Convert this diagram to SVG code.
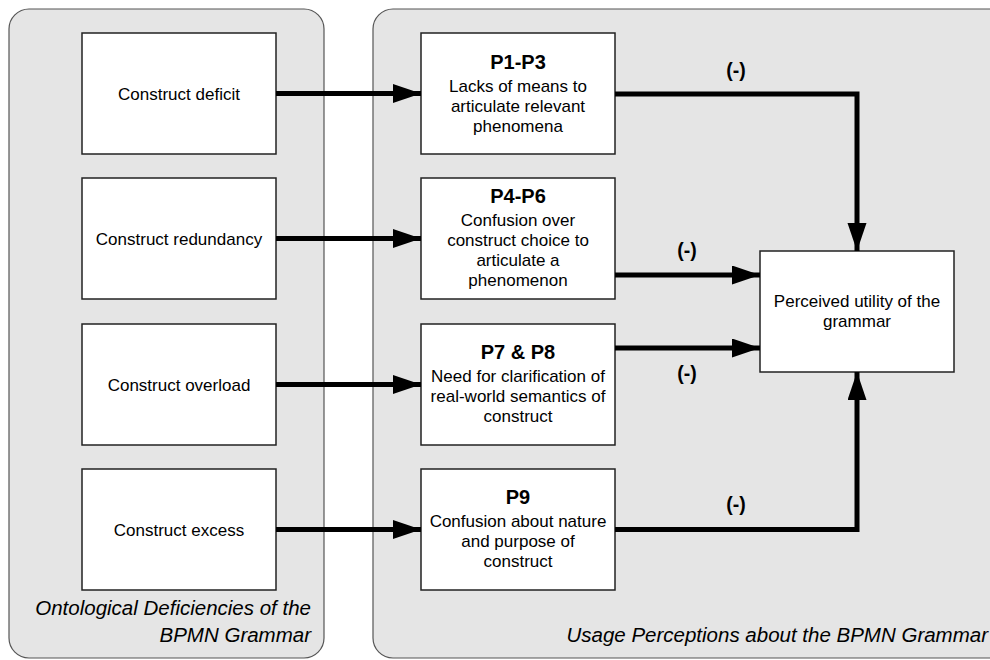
<svg xmlns="http://www.w3.org/2000/svg" width="990" height="660" viewBox="0 0 990 660">
<style>
.cont{fill:#e5e5e5;stroke:#555;stroke-width:1.2}
.box{fill:#fff;stroke:#222;stroke-width:1.5}
text{font-family:"Liberation Sans",Arial,sans-serif;fill:#000}
.t{font-size:17px;text-anchor:middle}
.h{font-size:20px;font-weight:bold;text-anchor:middle}
.lab{font-size:19.5px;font-weight:bold;text-anchor:middle}
.cap{font-size:20.5px;font-style:italic;text-anchor:end}
.ln{fill:none;stroke:#000;stroke-width:5;stroke-linejoin:miter}
</style>
<defs>
<marker id="ah" markerUnits="userSpaceOnUse" markerWidth="30" markerHeight="20" refX="28" refY="9.5" orient="auto">
<path d="M0,0 L28,9.5 L0,19 Z" fill="#000"/>
</marker>
</defs>
<g id="container-left">
<rect class="cont" x="9" y="9" width="315" height="649" rx="20"/>
<text class="cap" x="311" y="615">Ontological Deficiencies of the</text>
<text class="cap" x="311" y="642">BPMN Grammar</text>
</g>
<g id="container-right">
<rect class="cont" x="373" y="9" width="660" height="649" rx="20"/>
<text class="cap" x="988" y="642">Usage Perceptions about the BPMN Grammar</text>
</g>
<g id="n-deficit"><rect class="box" x="82" y="33" width="194" height="121"/><text class="t" x="179" y="99.5">Construct deficit</text></g>
<g id="n-redundancy"><rect class="box" x="82" y="178" width="194" height="121"/><text class="t" x="179" y="244.5">Construct redundancy</text></g>
<g id="n-overload"><rect class="box" x="82" y="324" width="194" height="121"/><text class="t" x="179" y="390.5">Construct overload</text></g>
<g id="n-excess"><rect class="box" x="82" y="469" width="194" height="121"/><text class="t" x="179" y="535.5">Construct excess</text></g>
<g id="n-p1"><rect class="box" x="421" y="33" width="194" height="121"/>
<text class="h" x="518" y="69">P1-P3</text>
<text class="t" x="518" y="92">Lacks of means to</text>
<text class="t" x="518" y="112">articulate relevant</text>
<text class="t" x="518" y="132">phenomena</text></g>
<g id="n-p4"><rect class="box" x="421" y="178" width="194" height="121"/>
<text class="h" x="518" y="203">P4-P6</text>
<text class="t" x="518" y="226">Confusion over</text>
<text class="t" x="518" y="246">construct choice to</text>
<text class="t" x="518" y="266">articulate a</text>
<text class="t" x="518" y="286">phenomenon</text></g>
<g id="n-p7"><rect class="box" x="421" y="324" width="194" height="121"/>
<text class="h" x="518" y="359">P7 &amp; P8</text>
<text class="t" x="518" y="382">Need for clarification of</text>
<text class="t" x="518" y="402">real-world semantics of</text>
<text class="t" x="518" y="422">construct</text></g>
<g id="n-p9"><rect class="box" x="421" y="469" width="194" height="121"/>
<text class="h" x="518" y="504">P9</text>
<text class="t" x="518" y="527">Confusion about nature</text>
<text class="t" x="518" y="547">and purpose of</text>
<text class="t" x="518" y="567">construct</text></g>
<g id="n-utility"><rect class="box" x="760" y="251" width="194" height="121"/>
<text class="t" x="857" y="307">Perceived utility of the</text>
<text class="t" x="857" y="327">grammar</text></g>
<g id="connectors">
<line class="ln" x1="276" y1="93.5" x2="421" y2="93.5" marker-end="url(#ah)"/>
<line class="ln" x1="276" y1="238.5" x2="421" y2="238.5" marker-end="url(#ah)"/>
<line class="ln" x1="276" y1="384.5" x2="421" y2="384.5" marker-end="url(#ah)"/>
<line class="ln" x1="276" y1="529.5" x2="421" y2="529.5" marker-end="url(#ah)"/>
<path class="ln" d="M615,94 H857 V251" marker-end="url(#ah)"/>
<line class="ln" x1="615" y1="275" x2="760" y2="275" marker-end="url(#ah)"/>
<line class="ln" x1="615" y1="348" x2="760" y2="348" marker-end="url(#ah)"/>
<path class="ln" d="M615,529.5 H857 V372" marker-end="url(#ah)"/>
<text class="lab" x="736" y="77">(-)</text>
<text class="lab" x="687" y="257">(-)</text>
<text class="lab" x="687" y="380">(-)</text>
<text class="lab" x="736" y="511">(-)</text>
</g>
</svg>
